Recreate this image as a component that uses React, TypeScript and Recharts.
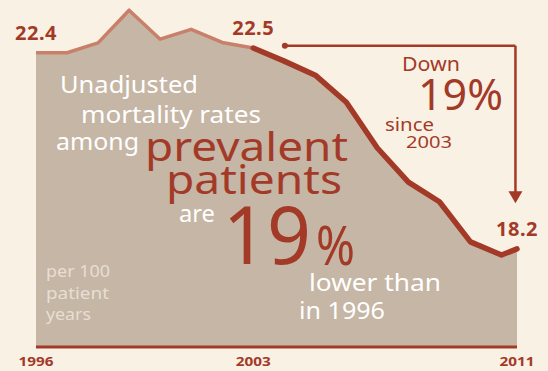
import React from 'react';
import {
  ComposedChart,
  Area,
  Line,
  XAxis,
  YAxis,
  ReferenceLine,
  ReferenceDot,
} from 'recharts';

// ---- data ----
const periods = [1996, 1997, 1998, 1999, 2000, 2001, 2002, 2003, 2004, 2005, 2006, 2007, 2008, 2009, 2010, 2011, 2011.5];
const rates = [22.4, 22.4, 22.61, 23.31, 22.69, 22.9, 22.62, 22.5, 22.22, 21.92, 21.34, 20.36, 19.63, 19.21, 18.35, 18.07, 18.2];
const splitYear = 2003;
const tickValues = [1996, 2003, 2011.5];
const tickLabels = ['1996', '2003', '2011'];
const labelledIndices = [0, 7, 16];
const bracket = { fromYear: 2004.02, toYear: 2011.45, level: 22.55, arrowTo: 19.18 };

const data = periods.map((p, i) => ({
  period: p,
  rate: rates[i],
  early: p <= splitYear ? rates[i] : null,
  recent: p >= splitYear ? rates[i] : null,
}));

const DARK = '#a33a28';
const LIGHT = '#c9806a';
const FILL = '#c6b6a5';
const BG = '#faf1e5';
const FONT = '"Noto Sans", "Open Sans", sans-serif';

const T = ({ x, y, size, w, fill = '#ffffff', weight = 400, children }: any) => (
  <text
    x={x}
    y={y}
    fontSize={size}
    fontFamily={FONT}
    fontWeight={weight}
    fill={fill}
    textLength={w}
    lengthAdjust="spacingAndGlyphs"
  >
    {children}
  </text>
);

const Annotations = () => (
  <svg
    width={548}
    height={371}
    style={{ position: 'absolute', left: 0, top: 0, pointerEvents: 'none' }}
  >
    <T x={60} y={93} size={23} w={138}>Unadjusted</T>
    <T x={81} y={123} size={23} w={180}>mortality rates</T>
    <T x={56} y={150} size={23} w={83}>among</T>
    <T x={145} y={161} size={40} w={203} fill={DARK}>prevalent</T>
    <T x={166} y={194} size={40} w={176} fill={DARK}>patients</T>
    <T x={179} y={222} size={23} w={36}>are</T>
    <T x={223} y={264} size={80} w={88} fill={DARK}>19</T>
    <T x={316} y={265} size={54} w={39} fill={DARK}>%</T>
    <T x={309} y={291} size={23} w={132}>lower than</T>
    <T x={299} y={319} size={23} w={86}>in 1996</T>
    <T x={46} y={277} size={16} w={64} fill="#e8ded4">per 100</T>
    <T x={46} y={299} size={16} w={63} fill="#e8ded4">patient</T>
    <T x={46} y={320} size={16} w={45} fill="#e8ded4">years</T>
    <T x={402} y={71} size={20} w={58} fill={DARK}>Down</T>
    <T x={418} y={110} size={44} w={85} fill={DARK}>19%</T>
    <T x={385} y={131} size={18} w={49} fill={DARK}>since</T>
    <T x={406} y={148} size={16} w={46} fill={DARK}>2003</T>
  </svg>
);

const renderTick = ({ x, y, payload }: any) => {
  const idx = tickValues.indexOf(payload.value);
  return (
    <text
      x={x}
      y={y + 19}
      textAnchor="middle"
      fontSize={13}
      fontWeight={700}
      fontFamily={FONT}
      fill={DARK}
      textLength={35}
      lengthAdjust="spacingAndGlyphs"
    >
      {idx >= 0 ? tickLabels[idx] : ''}
    </text>
  );
};

const renderValueLabel = (props: any) => {
  const { x, y, index, value } = props;
  if (!labelledIndices.includes(index)) return null;
  return (
    <text
      key={`lbl-${index}`}
      x={x}
      y={y - 13}
      textAnchor="middle"
      fontSize={20}
      fontWeight={700}
      fontFamily={FONT}
      fill={DARK}
      letterSpacing={0.5}
    >
      {Number(value).toFixed(1)}
    </text>
  );
};

const ArrowShape = (props: any) => {
  const { x1, y1, x2, y2 } = props;
  return (
    <g>
      <line x1={x1} y1={y1} x2={x2} y2={y2 - 8} stroke={DARK} strokeWidth={2.5} />
      <polygon points={`${x2 - 7},${y2 - 12} ${x2 + 7},${y2 - 12} ${x2},${y2}`} fill={DARK} />
    </g>
  );
};

export default function App() {
  return (
    <div style={{ position: 'absolute', left: 0, top: 0, width: 548, height: 371, background: BG }}>
      <ComposedChart
        width={548}
        height={371}
        data={data}
        margin={{ top: 6, right: 31, bottom: 0, left: 36 }}
      >
        <XAxis
          dataKey="period"
          type="number"
          domain={[1996, 2011.5]}
          ticks={tickValues}
          interval={0}
          height={24}
          tickSize={0}
          tickMargin={0}
          tickLine={false}
          axisLine={{ stroke: DARK, strokeWidth: 3 }}
          tick={renderTick}
        />
        <YAxis hide domain={[16.1, 23.4]} allowDataOverflow />
        <Area
          dataKey="rate"
          type="linear"
          fill={FILL}
          fillOpacity={1}
          stroke="none"
          isAnimationActive={false}
        />
        <Line
          dataKey="early"
          type="linear"
          stroke={LIGHT}
          strokeWidth={3.5}
          dot={false}
          strokeLinejoin="round"
          isAnimationActive={false}
        />
        <Line
          dataKey="recent"
          type="linear"
          stroke={DARK}
          strokeWidth={5.5}
          strokeLinecap="round"
          strokeLinejoin="round"
          dot={false}
          isAnimationActive={false}
        />
        <Line
          dataKey="rate"
          type="linear"
          stroke="none"
          dot={false}
          activeDot={false}
          label={renderValueLabel}
          isAnimationActive={false}
        />
        <ReferenceLine
          segment={[
            { x: bracket.fromYear, y: bracket.level },
            { x: bracket.toYear, y: bracket.level },
          ]}
          stroke={DARK}
          strokeWidth={2.5}
        />
        <ReferenceLine
          segment={[
            { x: bracket.toYear, y: bracket.level },
            { x: bracket.toYear, y: bracket.arrowTo },
          ]}
          shape={ArrowShape}
        />
        <ReferenceDot x={bracket.fromYear} y={bracket.level} r={3} fill={DARK} stroke="none" />
      </ComposedChart>
      <Annotations />
    </div>
  );
}
